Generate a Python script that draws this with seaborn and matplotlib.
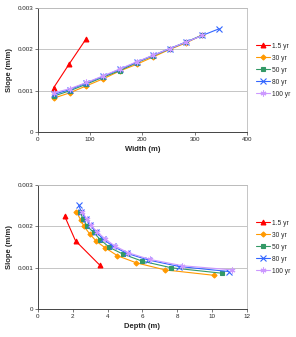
import numpy as np
import pandas as pd
import seaborn as sns
import matplotlib
matplotlib.use("Agg")
import matplotlib.pyplot as plt

periods = ['1.5 yr', '30 yr', '50 yr', '80 yr', '100 yr']

width_15 = [30, 60, 92]
slope_15 = [0.00107, 0.00165, 0.00225]
depth_15 = [3.54, 2.16, 1.53]

width_main = [30, 61, 93, 125, 157, 189, 221, 252, 284, 315]
width_80 = [30, 61, 93, 125, 157, 189, 221, 252, 284, 315, 347]

slope_30 = [0.00082, 0.00095, 0.00112, 0.00129, 0.00148, 0.00164, 0.00182, 0.00200, 0.00216, 0.00235]
depth_30 = [10.1, 7.3, 5.65, 4.57, 3.87, 3.35, 2.97, 2.64, 2.45, 2.2]

slope_50 = [0.00087, 0.00100, 0.00116, 0.00133, 0.00149, 0.00168, 0.00185, 0.00201, 0.00218, 0.00235]
depth_50 = [10.56, 7.67, 5.99, 4.88, 4.11, 3.58, 3.2, 2.81, 2.6, 2.39]

slope_80 = [0.00091, 0.00103, 0.00119, 0.00135, 0.00152, 0.00169, 0.00186, 0.00202, 0.00218, 0.00234, 0.00250]
depth_80 = [10.97, 8.13, 6.32, 5.1, 4.3, 3.75, 3.35, 3.0, 2.75, 2.5, 2.35]

slope_100 = [0.00095, 0.00105, 0.00120, 0.00136, 0.00153, 0.00170, 0.00186, 0.00202, 0.00218, 0.00234]
depth_100 = [11.16, 8.29, 6.45, 5.2, 4.4, 3.85, 3.42, 3.05, 2.8, 2.55]

colors = ['#FF0000', '#FF9900', '#339966', '#3366FF', '#CC99FF']
markers = ['^', 'D', 's', 'x', (6, 2, 0)]
msizes = [3.5, 2.6, 3, 3.8, 4.2]

rows = []
for name, w, s, d in [('1.5 yr', width_15, slope_15, depth_15),
                      ('30 yr', width_main, slope_30, depth_30),
                      ('50 yr', width_main, slope_50, depth_50),
                      ('80 yr', width_80, slope_80, depth_80),
                      ('100 yr', width_main, slope_100, depth_100)]:
    for i in range(len(s)):
        rows.append({'period': name, 'width': w[i], 'slope': s[i], 'depth': d[i]})
df = pd.DataFrame(rows)

sns.set_style("white")
plt.rcParams['font.family'] = ['Liberation Sans', 'DejaVu Sans']

fig = plt.figure(figsize=(2.96, 3.37), dpi=100)
ax1 = fig.add_axes([0.128, 0.608, 0.706, 0.368])
ax2 = fig.add_axes([0.128, 0.082, 0.706, 0.370])


def draw(ax, xcol, xlim, xticks, xlabel):
    for k, p in enumerate(periods):
        sub = df[df.period == p]
        sns.lineplot(data=sub, x=xcol, y='slope', ax=ax, sort=False, color=colors[k],
                     marker=markers[k], markersize=msizes[k], markeredgecolor=colors[k],
                     markerfacecolor=colors[k], markeredgewidth=0.8, linewidth=0.8, label=p)
    ax.set_xlim(*xlim)
    ax.set_ylim(0, 0.003)
    ax.set_xticks(xticks)
    ax.set_yticks([0, 0.001, 0.002, 0.003])
    ax.set_yticklabels(['0', '0.001', '0.002', '0.003'])
    ax.yaxis.grid(True, color='#BBBBBB', linewidth=0.6)
    ax.set_axisbelow(True)
    for s in ['top', 'right']:
        ax.spines[s].set_color('#BBBBBB')
        ax.spines[s].set_linewidth(0.6)
    for s in ['left', 'bottom']:
        ax.spines[s].set_color('#444444')
        ax.spines[s].set_linewidth(0.7)
    ax.tick_params(axis='both', labelsize=4.5, length=2, width=0.5, direction='out',
                   color='#444444', pad=1.5, bottom=True, left=True)
    ax.set_xlabel(xlabel, fontsize=5.5, fontweight='bold', labelpad=3)
    ax.set_ylabel('Slope (m/m)', fontsize=5.5, fontweight='bold', labelpad=3)
    ax.legend(loc='center left', bbox_to_anchor=(1.03, 0.5), frameon=False, fontsize=4.8,
              handlelength=2.2, labelspacing=0.75, handletextpad=0.3, borderaxespad=0)


draw(ax1, 'width', (0, 400), [0, 100, 200, 300, 400], 'Width (m)')
draw(ax2, 'depth', (0, 12), [0, 2, 4, 6, 8, 10, 12], 'Depth (m)')

fig.savefig('out.png', dpi=100)
